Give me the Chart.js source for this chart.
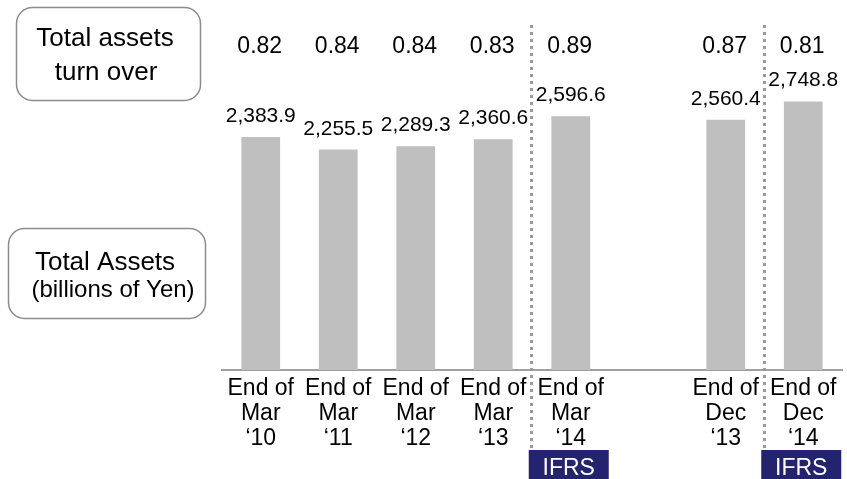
<!DOCTYPE html>
<html>
<head>
<meta charset="utf-8">
<script src="https://cdn.jsdelivr.net/npm/chart.js@4.4.1/dist/chart.umd.min.js"></script>
<style>
  html, body { margin: 0; padding: 0; background: #ffffff; }
  #wrap { width: 847px; height: 479px; position: relative; }
</style>
</head>
<body>
<div id="wrap"><canvas id="c" width="847" height="479"></canvas></div>
<script>
// ---- data ----
const categories = [
  ['End of', 'Mar', '\u201810'],
  ['End of', 'Mar', '\u201811'],
  ['End of', 'Mar', '\u201812'],
  ['End of', 'Mar', '\u201813'],
  ['End of', 'Mar', '\u201814'],
  [''],
  ['End of', 'Dec', '\u201813'],
  ['End of', 'Dec', '\u201814']
];
const totalAssets = [2383.9, 2255.5, 2289.3, 2360.6, 2596.6, null, 2560.4, 2748.8];
const turnover = [0.82, 0.84, 0.84, 0.83, 0.89, null, 0.87, 0.81];
const ifrsFlags = [false, false, false, false, true, false, false, true];
const dividerAfter = [3, 6];
const boxTopLines = ['Total assets', 'turn over'];
const boxBottomLines = ['Total Assets', '(billions of Yen)'];

const FONT = '"Liberation Sans", Arial, sans-serif';

function roundRect(ctx, x, y, w, h, r) {
  ctx.beginPath();
  ctx.moveTo(x + r, y);
  ctx.lineTo(x + w - r, y);
  ctx.arcTo(x + w, y, x + w, y + r, r);
  ctx.lineTo(x + w, y + h - r);
  ctx.arcTo(x + w, y + h, x + w - r, y + h, r);
  ctx.lineTo(x + r, y + h);
  ctx.arcTo(x, y + h, x, y + h - r, r);
  ctx.lineTo(x, y + r);
  ctx.arcTo(x, y, x + r, y, r);
  ctx.closePath();
}

const decor = {
  id: 'decor',
  afterDatasetsDraw(chart) {
    const ctx = chart.ctx;
    const xs = chart.scales.x;
    const meta = chart.getDatasetMeta(0);
    ctx.save();

    // dotted dividers
    ctx.strokeStyle = '#9a9a9a';
    ctx.lineWidth = 3;
    ctx.setLineDash([3, 4]);
    dividerAfter.forEach(i => {
      const x = Math.round((xs.getPixelForValue(i) + xs.getPixelForValue(i + 1)) / 2) - 0.5;
      ctx.beginPath();
      ctx.moveTo(x, 25);
      ctx.lineTo(x, 449);
      ctx.stroke();
    });
    ctx.setLineDash([]);

    // turnover labels
    ctx.fillStyle = '#000';
    ctx.textAlign = 'center';
    ctx.textBaseline = 'alphabetic';
    ctx.font = '23px ' + FONT;
    turnover.forEach((v, i) => {
      if (v == null) return;
      ctx.fillText(v.toFixed(2), xs.getPixelForValue(i) - 1, 53);
    });

    // total assets labels
    ctx.font = '21px ' + FONT;
    totalAssets.forEach((v, i) => {
      if (v == null) return;
      const bar = meta.data[i];
      const s = v.toLocaleString('en-US', { minimumFractionDigits: 1, maximumFractionDigits: 1 });
      ctx.fillText(s, bar.x, bar.y - 15);
    });

    // IFRS boxes
    ifrsFlags.forEach((f, i) => {
      if (!f) return;
      const cx = xs.getPixelForValue(i) - 2;
      ctx.fillStyle = '#24236e';
      ctx.fillRect(cx - 40, 450, 80, 29);
      ctx.fillStyle = '#ffffff';
      ctx.font = '23px ' + FONT;
      ctx.fillText('IFRS', cx, 475);
    });

    // left boxes
    ctx.strokeStyle = '#8c8c8c';
    ctx.lineWidth = 1.5;
    roundRect(ctx, 16.5, 7.5, 184, 93, 16);
    ctx.stroke();
    roundRect(ctx, 8.5, 228.5, 197, 90, 16);
    ctx.stroke();
    ctx.fillStyle = '#000';
    ctx.font = '26px ' + FONT;
    ctx.fillText(boxTopLines[0], 105, 46);
    ctx.fillText(boxTopLines[1], 106, 80);
    ctx.fillText(boxBottomLines[0], 105, 270);
    ctx.font = '24px ' + FONT;
    ctx.fillText(boxBottomLines[1], 113, 297);

    ctx.restore();
  }
};

new Chart(document.getElementById('c'), {
  type: 'bar',
  data: {
    labels: categories,
    datasets: [{
      data: totalAssets,
      backgroundColor: '#bfbfbf',
      borderWidth: 0,
      barPercentage: 0.5,
      categoryPercentage: 1.0
    }]
  },
  options: {
    responsive: false,
    animation: false,
    devicePixelRatio: 1,
    layout: { padding: { left: 222, right: 5, top: 28, bottom: 0 } },
    plugins: { legend: { display: false }, tooltip: { enabled: false } },
    scales: {
      x: {
        grid: { display: false, drawTicks: false },
        border: { display: true, color: '#a0a0a0', width: 2 },
        afterFit(s) { s.height = 109; },
        ticks: {
          color: '#000',
          font: { family: FONT, size: 23, lineHeight: '25px' },
          padding: 6,
          autoSkip: false,
          maxRotation: 0,
          minRotation: 0
        }
      },
      y: {
        display: false,
        min: 0,
        max: 3500
      }
    }
  },
  plugins: [decor]
});
</script>
</body>
</html>
